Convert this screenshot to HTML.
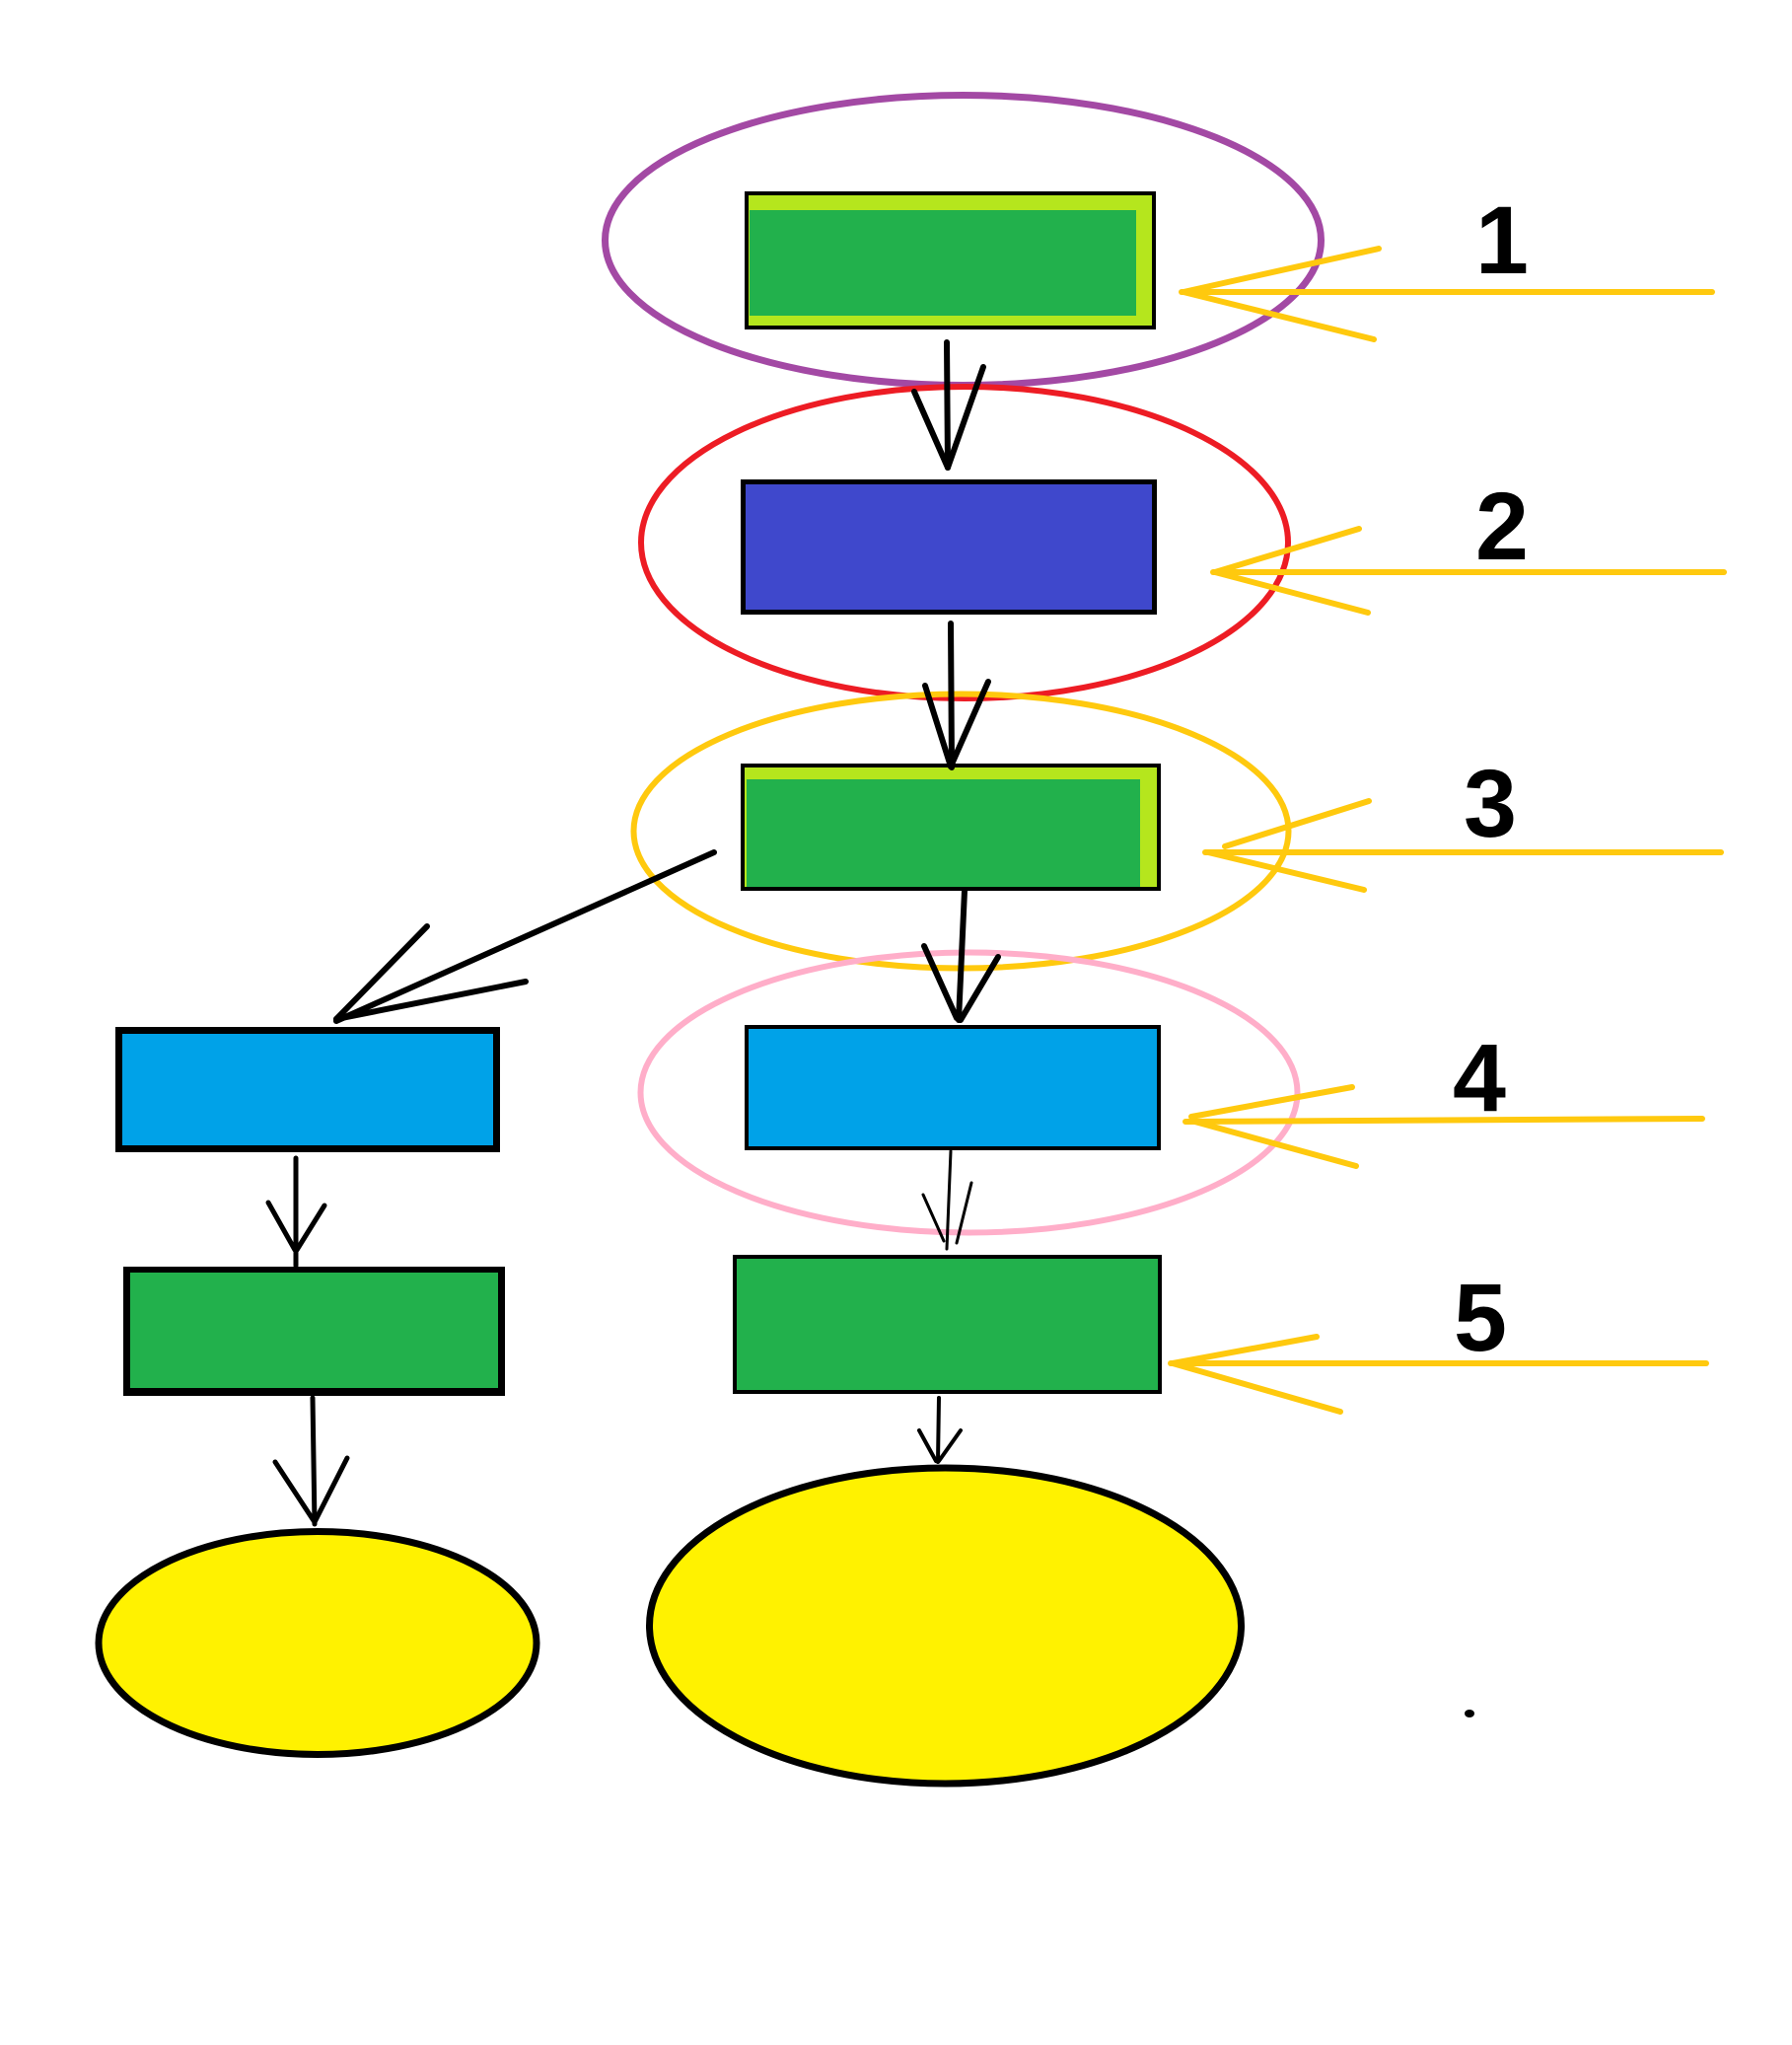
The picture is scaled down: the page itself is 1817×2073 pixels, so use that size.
<!DOCTYPE html>
<html>
<head>
<meta charset="utf-8">
<style>
  html, body { margin: 0; padding: 0; background: #ffffff; }
  body { width: 1817px; height: 2073px; overflow: hidden; }
  svg { display: block; }
  text { font-family: "Liberation Sans", Arial, sans-serif; font-weight: bold; font-size: 97px; fill: #000; }
</style>
</head>
<body>
<svg width="1817" height="2073" viewBox="0 0 1817 2073" xmlns="http://www.w3.org/2000/svg">
  <rect x="0" y="0" width="1817" height="2073" fill="#ffffff"/>

  <!-- Rect 1: green with lime frame -->
  <rect x="755" y="194" width="417" height="140" fill="#000"/>
  <rect x="759" y="198" width="409" height="132" fill="#B5E61D"/>
  <rect x="760" y="213" width="392" height="107" fill="#22B14C"/>

  <!-- Rect 2: dark blue -->
  <rect x="751" y="486" width="422" height="137" fill="#000"/>
  <rect x="756" y="491" width="412" height="127" fill="#3F48CC"/>

  <!-- Rect 3: green with lime top/right -->
  <rect x="751" y="774" width="426" height="129" fill="#000"/>
  <rect x="755" y="778" width="418" height="121" fill="#B5E61D"/>
  <rect x="757" y="790" width="399" height="109" fill="#22B14C"/>

  <!-- Rect 4: light blue right -->
  <rect x="755" y="1039" width="422" height="127" fill="#000"/>
  <rect x="759" y="1043" width="414" height="119" fill="#00A2E8"/>

  <!-- Rect 5: green right -->
  <rect x="743" y="1272" width="435" height="141" fill="#000"/>
  <rect x="747" y="1276" width="427" height="133" fill="#22B14C"/>

  <!-- Left light blue -->
  <rect x="117" y="1041" width="390" height="127" fill="#000"/>
  <rect x="124" y="1048" width="376" height="113" fill="#00A2E8"/>

  <!-- Left green -->
  <rect x="125" y="1284" width="387" height="131" fill="#000"/>
  <rect x="132" y="1290" width="373" height="117" fill="#22B14C"/>

  <!-- Yellow filled ellipses -->
  <ellipse cx="322" cy="1665.5" rx="222" ry="113" fill="#FFF200" stroke="#000" stroke-width="7"/>
  <ellipse cx="958.5" cy="1648" rx="300" ry="160" fill="#FFF200" stroke="#000" stroke-width="7"/>

  <!-- Outline ellipses -->
  <ellipse cx="976.5" cy="243.5" rx="363" ry="147" fill="none" stroke="#A349A4" stroke-width="7"/>
  <ellipse cx="978" cy="550" rx="328" ry="158" fill="none" stroke="#ED1C24" stroke-width="6"/>
  <ellipse cx="974.5" cy="842.5" rx="332" ry="139" fill="none" stroke="#FFC90E" stroke-width="6"/>
  <ellipse cx="982.5" cy="1107.5" rx="333" ry="142" fill="none" stroke="#FFAEC9" stroke-width="6"/>

  <!-- Black arrows -->
  <g stroke="#000" stroke-linecap="round" fill="none">
    <g stroke-width="6">
      <line x1="960" y1="347" x2="961" y2="474"/>
      <line x1="927" y1="397" x2="961" y2="474"/>
      <line x1="997" y1="372" x2="961" y2="474"/>

      <line x1="964" y1="632" x2="965" y2="778"/>
      <line x1="938" y1="695" x2="964" y2="777"/>
      <line x1="1002" y1="691" x2="964" y2="777"/>

      <line x1="978" y1="903" x2="972" y2="1034"/>
      <line x1="937" y1="959" x2="970" y2="1032"/>
      <line x1="1012" y1="970" x2="974" y2="1034"/>

      <line x1="724" y1="864" x2="341" y2="1035"/>
      <line x1="433" y1="939" x2="341" y2="1033"/>
      <line x1="533" y1="995" x2="341" y2="1033"/>
    </g>
    <g stroke-width="3">
      <line x1="964" y1="1167" x2="960" y2="1266"/>
      <line x1="936" y1="1211" x2="957" y2="1258"/>
      <line x1="985" y1="1199" x2="970" y2="1260"/>
    </g>
    <g stroke-width="4">
      <line x1="952" y1="1417" x2="951" y2="1482"/>
      <line x1="932" y1="1450" x2="949" y2="1481"/>
      <line x1="974" y1="1450" x2="952" y2="1481"/>
    </g>
    <g stroke-width="5">
      <line x1="300" y1="1174" x2="300" y2="1283"/>
      <line x1="272" y1="1219" x2="299" y2="1267"/>
      <line x1="329" y1="1222" x2="301" y2="1267"/>

      <line x1="317" y1="1417" x2="319" y2="1545"/>
      <line x1="279" y1="1482" x2="319" y2="1543"/>
      <line x1="352" y1="1478" x2="319" y2="1543"/>
    </g>
  </g>

  <!-- Yellow pointer arrows -->
  <g stroke="#FFC90E" stroke-width="6" stroke-linecap="round" fill="none">
    <line x1="1198" y1="296" x2="1736" y2="296"/>
    <line x1="1398" y1="252" x2="1200" y2="296"/>
    <line x1="1393" y1="344" x2="1200" y2="296"/>

    <line x1="1230" y1="580" x2="1748" y2="580"/>
    <line x1="1378" y1="536" x2="1232" y2="580"/>
    <line x1="1387" y1="621" x2="1232" y2="580"/>

    <line x1="1222" y1="864" x2="1745" y2="864"/>
    <line x1="1388" y1="812" x2="1242" y2="858"/>
    <line x1="1383" y1="902" x2="1225" y2="864"/>

    <line x1="1202" y1="1137" x2="1726" y2="1134"/>
    <line x1="1371" y1="1102" x2="1208" y2="1132"/>
    <line x1="1375" y1="1182" x2="1208" y2="1136"/>

    <line x1="1187" y1="1382" x2="1730" y2="1382"/>
    <line x1="1335" y1="1355" x2="1189" y2="1382"/>
    <line x1="1359" y1="1431" x2="1189" y2="1382"/>
  </g>

  <!-- Numbers -->
  <text x="1523" y="277" text-anchor="middle">1</text>
  <text x="1523" y="567" text-anchor="middle">2</text>
  <text x="1511" y="848" text-anchor="middle">3</text>
  <text x="1500" y="1126" text-anchor="middle">4</text>
  <text x="1501" y="1369" text-anchor="middle">5</text>

  <!-- stray dot -->
  <ellipse cx="1490" cy="1737" rx="5" ry="4" fill="#000"/>
</svg>
</body>
</html>
